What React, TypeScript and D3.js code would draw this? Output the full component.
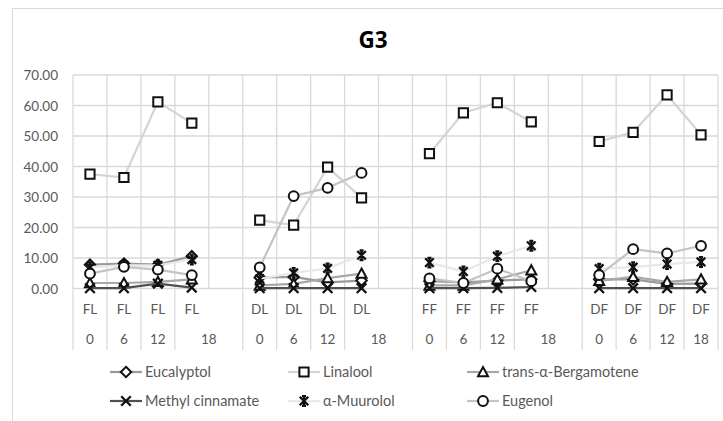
import React from "react";
import * as d3 from "d3";

const title = "G3";
const groups = ["FL", "DL", "FF", "DF"];
const times = ["0", "6", "12", "18"];
const yTicks = [0, 10, 20, 30, 40, 50, 60, 70];

// values per group (FL, DL, FF, DF), each with times 0, 6, 12, 18
const eucalyptol = [7.8, 8.2, 7.8, 10.6, 3.6, 3.8, 2.0, 2.6, 2.4, 2.0, 2.6, 3.0, 3.0, 3.0, 1.5, 1.6];
const linalool = [37.5, 36.4, 61.2, 54.2, 22.4, 20.8, 39.8, 29.7, 44.2, 57.6, 60.9, 54.6, 48.2, 51.2, 63.5, 50.4];
const bergamotene = [1.8, 1.8, 2.2, 3.0, 1.0, 1.5, 3.4, 4.9, 1.0, 1.0, 3.0, 6.0, 2.5, 3.8, 2.2, 3.0];
const methylCinnamate = [0.1, 0.1, 1.6, 0.3, 0.1, 0.1, 0.1, 0.1, 0.1, 0.1, 0.2, 0.5, 0.1, 0.1, 0.1, 0.1];
const muurolol = [7.0, 7.6, 7.6, 9.5, 3.2, 5.1, 6.6, 10.9, 8.5, 5.6, 10.6, 14.0, 6.5, 7.0, 8.0, 8.7];
const eugenol = [4.9, 7.1, 6.2, 4.4, 6.9, 30.3, 33.0, 37.9, 3.3, 1.8, 6.5, 2.4, 4.4, 12.9, 11.5, 14.0];

type MarkerKind = "diamond" | "square" | "triangle" | "x" | "star" | "circle";

const seriesNames = ["Eucalyptol", "Linalool", "trans-α-Bergamotene", "Methyl cinnamate", "α-Muurolol", "Eugenol"];
const seriesValues = [eucalyptol, linalool, bergamotene, methylCinnamate, muurolol, eugenol];
const seriesMarkers: MarkerKind[] = ["diamond", "square", "triangle", "x", "star", "circle"];
const seriesLineColors = ["#9a9a9a", "#d4d4d4", "#a8a8a8", "#505050", "#e8e8e8", "#c4c4c4"];

// categories: 4 per group, with an empty category between groups
type Cat = { group: string; time: string; blank: boolean; gi: number; ti: number };
const categories: Cat[] = [];
groups.forEach((g, gi) => {
  times.forEach((t, ti) => categories.push({ group: g, time: t, blank: false, gi, ti }));
  if (gi < groups.length - 1) categories.push({ group: "", time: "", blank: true, gi, ti: -1 });
});

const W = 723;
const H = 421;
const left = 73;
const right = 718;
const top = 75;
const bottom = 288.5;
const FONT = "Lato, 'Open Sans', sans-serif";
const TXT = "#595959";

function markerPath(kind: MarkerKind): string {
  switch (kind) {
    case "square":
      return "M-4.6,-4.6H4.6V4.6H-4.6Z";
    case "diamond":
      return "M0,-5.2L5.2,0L0,5.2L-5.2,0Z";
    case "triangle":
      return "M0,-5L5,4.2H-5Z";
    case "circle": {
      const p = d3.path();
      p.arc(0, 0, 4.9, 0, Math.PI * 2);
      p.closePath();
      return p.toString();
    }
    case "x":
      return "M-4.8,-4.8L4.8,4.8M-4.8,4.8L4.8,-4.8";
    case "star":
      return "M-4.3,-4.3L4.3,4.3M-4.3,4.3L4.3,-4.3M-2,-4.8H2M-2,4.8H2M0,-4.8V4.8";
  }
}

function Marker({ kind, x, y }: { kind: MarkerKind; x: number; y: number }) {
  const open = kind !== "x" && kind !== "star";
  return (
    <path
      d={markerPath(kind)}
      transform={`translate(${x},${y})`}
      fill={open ? "#ffffff" : "none"}
      stroke="#111111"
      strokeWidth={open ? 2 : 2.3}
      strokeLinejoin="miter"
    />
  );
}

export default function App() {
  const x = d3
    .scaleBand<number>()
    .domain(categories.map((_, i) => i))
    .range([left, right])
    .padding(0);
  const bw = x.bandwidth();
  const cx = (i: number) => (x(i) as number) + bw / 2;
  const y = d3.scaleLinear().domain([0, 70]).range([bottom, top]);

  // map value index (group*4+time) to category index
  const catIndexOf = (vi: number) => {
    const gi = Math.floor(vi / 4);
    const ti = vi % 4;
    return gi * 5 + ti;
  };

  const line = d3
    .line<[number, number]>()
    .x((d) => d[0])
    .y((d) => d[1]);

  const boundaries = d3.range(categories.length + 1).map((i) => left + i * bw);
  // axis separators: skip boundary between "18" and the following blank category
  const sepBoundaries = boundaries.filter((_, i) => !(i % 5 === 4 && i < categories.length));

  const legendCols = [110, 288, 467];
  const legendRows = [372, 401];

  return (
    <svg
      width={W}
      height={H}
      style={{ position: "absolute", left: 0, top: 0, background: "#fff" }}
      fontFamily={FONT}
    >
      <rect x={0} y={0} width={W} height={H} fill="#fff" />
      {/* chart border */}
      <rect x={12.5} y={8.5} width={740} height={440} fill="none" stroke="#d9d9d9" strokeWidth={1} />

      <text x={373} y={48} textAnchor="middle" fontSize={22.5} fontWeight="bold" fill="#000" fontFamily="'Open Sans', Lato, sans-serif">
        {title}
      </text>

      {/* horizontal gridlines */}
      {yTicks.map((t) => (
        <line key={"h" + t} x1={left} x2={right} y1={y(t)} y2={y(t)} stroke="#d9d9d9" strokeWidth={1.3} />
      ))}
      {/* vertical gridlines */}
      {boundaries.map((b, i) => (
        <line key={"v" + i} x1={b} x2={b} y1={top} y2={bottom} stroke="#d9d9d9" strokeWidth={1.3} />
      ))}
      {/* axis separators */}
      {sepBoundaries.map((b, i) => (
        <line key={"s" + i} x1={b} x2={b} y1={bottom} y2={350} stroke="#d9d9d9" strokeWidth={1.2} />
      ))}

      {/* y labels */}
      {yTicks.map((t) => (
        <text key={"yl" + t} x={58} y={y(t) + 5} textAnchor="end" fontSize={13.5} fill={TXT}>
          {d3.format(".2f")(t)}
        </text>
      ))}

      {/* category labels */}
      {categories.map((c, i) =>
        c.blank ? null : (
          <text key={"c1" + i} x={cx(i)} y={314} textAnchor="middle" fontSize={13.5} fill={TXT}>
            {c.group}
          </text>
        )
      )}
      {categories.map((c, i) => {
        if (c.blank) return null;
        const spansTwo = c.ti === 3 && i + 1 < categories.length && categories[i + 1].blank;
        const px = spansTwo ? (x(i) as number) + bw : cx(i);
        return (
          <text key={"c2" + i} x={px} y={344} textAnchor="middle" fontSize={13.5} fill={TXT}>
            {c.time}
          </text>
        );
      })}

      {/* series */}
      {seriesValues.map((vals, si) => (
        <g key={"s" + si}>
          {groups.map((_, gi) => {
            const pts: [number, number][] = d3
              .range(4)
              .map((ti) => [cx(catIndexOf(gi * 4 + ti)), y(vals[gi * 4 + ti])]);
            return (
              <path
                key={"l" + gi}
                d={line(pts) || ""}
                fill="none"
                stroke={seriesLineColors[si]}
                strokeWidth={2.2}
                strokeLinejoin="round"
              />
            );
          })}
          {vals.map((v, vi) => (
            <Marker key={"m" + vi} kind={seriesMarkers[si]} x={cx(catIndexOf(vi))} y={y(v)} />
          ))}
        </g>
      ))}

      {/* legend */}
      {seriesNames.map((name, si) => {
        const col = si % 3;
        const row = Math.floor(si / 3);
        const lx = legendCols[col];
        const ly = legendRows[row];
        return (
          <g key={"lg" + si}>
            <line x1={lx} x2={lx + 32} y1={ly} y2={ly} stroke={seriesLineColors[si]} strokeWidth={2.2} />
            <Marker kind={seriesMarkers[si]} x={lx + 16} y={ly} />
            <text x={lx + 35} y={ly + 5} fontSize={14.5} fill={TXT}>
              {name}
            </text>
          </g>
        );
      })}
    </svg>
  );
}
